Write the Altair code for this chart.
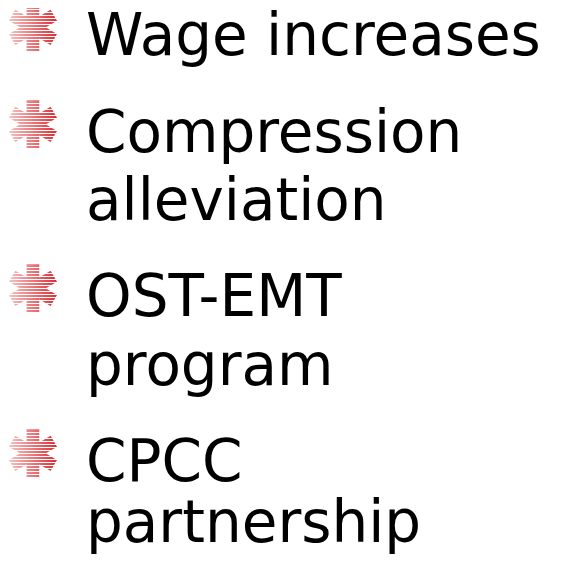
import altair as alt
import pandas as pd

# Bullet items (each item may wrap onto several lines)
items = ["Wage increases", "Compression alleviation", "OST-EMT program", "CPCC partnership"]
item_lines = [["Wage increases"], ["Compression", "alleviation"], ["OST-EMT", "program"], ["CPCC", "partnership"]]

# layout (page pixels): baseline of each text line, in reading order
line_baselines = [55, 152, 220, 316, 385, 481, 542]
text_x = 86
bullet_x = 33
bullet_rise = 24

rows, bullets = [], []
k = 0
for i, lines in enumerate(item_lines):
    bullets.append({"item": items[i], "x": bullet_x, "y": line_baselines[k] - bullet_rise})
    for ln in lines:
        rows.append({"item": items[i], "line": ln, "x": text_x, "y": line_baselines[k]})
        k += 1

text_df = pd.DataFrame(rows)
bullet_df = pd.DataFrame(bullets)

stripe_offsets = list(range(-26, 28, 3))
stripe_rows = []
for b in bullets:
    for o in stripe_offsets:
        stripe_rows.append({"item": b["item"], "x": b["x"] - 26, "x2": b["x"] + 26, "y": b["y"] + o + 1.5})
stripe_df = pd.DataFrame(stripe_rows)

W, H = 571, 555
xs = alt.Scale(domain=[8, 8 + W], range=[0, W])
ys = alt.Scale(domain=[8, 8 + H], reverse=True)

text = alt.Chart(text_df).mark_text(
    align="left", baseline="alphabetic", font="DejaVu Sans", fontSize=58, color="#000000"
).encode(
    x=alt.X("x:Q", scale=xs, axis=None),
    y=alt.Y("y:Q", scale=ys, axis=None),
    text="line:N",
)

grad = alt.LinearGradient(
    gradient="linear", x1=0, y1=0, x2=1, y2=0,
    stops=[alt.GradientStop(color="#f6c9c9", offset=0), alt.GradientStop(color="#d9262c", offset=1)],
)

bullet = alt.Chart(bullet_df).mark_text(
    align="center", baseline="middle", font="DejaVu Sans", fontSize=62,
    fill=grad, stroke=grad, strokeWidth=3,
).encode(
    x=alt.X("x:Q", scale=xs, axis=None),
    y=alt.Y("y:Q", scale=ys, axis=None),
    text=alt.value("✱"),
)

stripes = alt.Chart(stripe_df).mark_rule(color="white", strokeWidth=1.2).encode(
    x=alt.X("x:Q", scale=xs, axis=None),
    x2="x2:Q",
    y=alt.Y("y:Q", scale=ys, axis=None),
)

chart = alt.layer(bullet, stripes, text).properties(
    width=W, height=H, autosize=alt.AutoSizeParams(type="none"), padding=0
).configure_view(stroke=None)

chart.save("out.html", embed_options={"renderer": "svg", "actions": False})
